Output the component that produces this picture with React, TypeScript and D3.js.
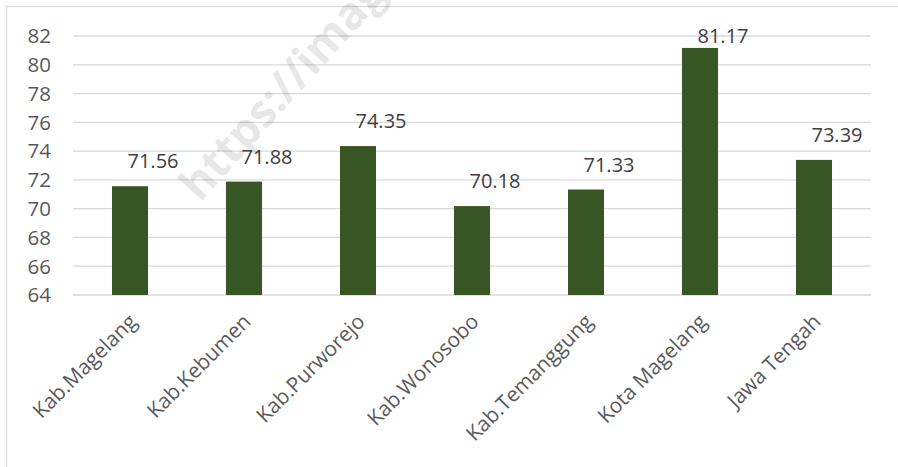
import React from "react";
import * as d3 from "d3";

const categories = [
  "Kab.Magelang",
  "Kab.Kebumen",
  "Kab.Purworejo",
  "Kab.Wonosobo",
  "Kab.Temanggung",
  "Kota Magelang",
  "Jawa Tengah",
];
const values = [71.56, 71.88, 74.35, 70.18, 71.33, 81.17, 73.39];
const yTicks = [64, 66, 68, 70, 72, 74, 76, 78, 80, 82];
const watermark = "https://images";

const W = 898;
const H = 467;

export default function App() {
  const x = d3
    .scaleBand<string>()
    .domain(categories)
    .range([73, 871])
    .paddingInner(0.684)
    .paddingOuter(0.342);
  const y = d3.scaleLinear().domain([64, 82]).range([295, 36]);
  const font = "'Open Sans', 'Noto Sans', sans-serif";

  return (
    <svg
      width={W}
      height={H}
      style={{ position: "absolute", left: 0, top: 0, background: "#fff" }}
    >
      <rect x={0} y={0} width={W} height={H} fill="#fff" />
      <rect x={6.5} y={6.5} width={W + 10} height={H + 10} fill="none" stroke="#d9d9d9" strokeWidth={1.3} />
      {yTicks.map((t) => (
        <g key={t}>
          <line x1={73} x2={871} y1={y(t)} y2={y(t)} stroke="#d9d9d9" strokeWidth={1.3} />
          <text
            x={51}
            y={y(t)}
            dy="0.36em"
            textAnchor="end"
            fontFamily={font}
            fontSize={20.5}
            fill="#595959"
          >
            {t}
          </text>
        </g>
      ))}
      {categories.map((c, i) => {
        const x0 = x(c)!;
        const cx = x0 + x.bandwidth() / 2;
        const v = values[i];
        const ly = Math.max(y(v) - 18, y(82) + 7);
        return (
          <g key={c}>
            <rect x={x0} y={y(v)} width={x.bandwidth()} height={y(64) - y(v)} fill="#375623" />
            <text
              x={cx + 23}
              y={ly}
              textAnchor="middle"
              fontFamily={font}
              fontSize={20}
              fill="#404040"
            >
              {v.toFixed(2)}
            </text>
            <text
              transform={`translate(${cx + 8},${323}) rotate(-45)`}
              textAnchor="end"
              fontFamily={font}
              fontSize={20.8}
              fill="#595959"
            >
              {c}
            </text>
          </g>
        );
      })}
      <text
        transform="translate(200,203) rotate(-48)"
        fontFamily={font}
        fontWeight="bold"
        fontSize={45}
        fill="#000"
        fillOpacity={0.11}
      >
        {watermark}
      </text>
    </svg>
  );
}
